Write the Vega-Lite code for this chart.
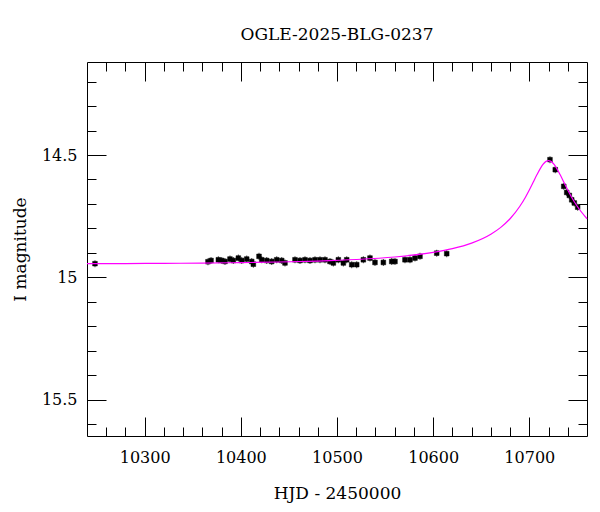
{
  "$schema": "https://vega.github.io/schema/vega-lite/v6.json",
  "width": 500,
  "height": 374,
  "autosize": "none",
  "padding": {"left": 87, "top": 62, "right": 13, "bottom": 76},
  "background": "white",
  "title": {"text": "OGLE-2025-BLG-0237", "font": "DejaVu Serif", "fontSize": 17, "fontWeight": "normal", "anchor": "middle", "baseline": "alphabetic", "offset": 5, "color": "black"},
  "config": {
    "view": {"stroke": "black", "strokeWidth": 1},
    "axis": {"domain": false, "grid": false, "tickColor": "black", "tickWidth": 1, "labelColor": "black", "titleColor": "black", "labelFont": "DejaVu Serif", "titleFont": "DejaVu Serif", "labelFontSize": 16, "titleFontSize": 17, "titleFontWeight": "normal"}
  },
  "datasets": {
    "obs": [
      {"t": 10248.3, "mag": 14.944}, {"t": 10365.8, "mag": 14.936}, {"t": 10369.0, "mag": 14.931}, {"t": 10376.6, "mag": 14.928},
      {"t": 10380.1, "mag": 14.931}, {"t": 10383.5, "mag": 14.935}, {"t": 10388.7, "mag": 14.925}, {"t": 10392.2, "mag": 14.931},
      {"t": 10397.4, "mag": 14.921}, {"t": 10400.9, "mag": 14.931}, {"t": 10406.1, "mag": 14.925}, {"t": 10411.3, "mag": 14.935},
      {"t": 10413.0, "mag": 14.946}, {"t": 10418.9, "mag": 14.914}, {"t": 10421.7, "mag": 14.928}, {"t": 10426.9, "mag": 14.931},
      {"t": 10432.1, "mag": 14.935}, {"t": 10437.3, "mag": 14.928}, {"t": 10442.5, "mag": 14.931}, {"t": 10445.9, "mag": 14.941},
      {"t": 10456.3, "mag": 14.928}, {"t": 10461.5, "mag": 14.931}, {"t": 10466.7, "mag": 14.928}, {"t": 10471.9, "mag": 14.931},
      {"t": 10477.1, "mag": 14.928}, {"t": 10482.3, "mag": 14.928}, {"t": 10487.5, "mag": 14.928}, {"t": 10492.7, "mag": 14.935},
      {"t": 10496.2, "mag": 14.941}, {"t": 10501.4, "mag": 14.928}, {"t": 10506.6, "mag": 14.941}, {"t": 10510.1, "mag": 14.928},
      {"t": 10515.3, "mag": 14.948}, {"t": 10520.5, "mag": 14.948}, {"t": 10527.4, "mag": 14.928}, {"t": 10534.3, "mag": 14.921},
      {"t": 10539.5, "mag": 14.939}, {"t": 10548.2, "mag": 14.939}, {"t": 10556.9, "mag": 14.935}, {"t": 10560.3, "mag": 14.935},
      {"t": 10570.7, "mag": 14.928}, {"t": 10575.9, "mag": 14.928}, {"t": 10581.1, "mag": 14.921}, {"t": 10586.3, "mag": 14.914},
      {"t": 10603.7, "mag": 14.901}, {"t": 10614.1, "mag": 14.903},
      {"t": 10721.5, "mag": 14.519}, {"t": 10727.0, "mag": 14.560}, {"t": 10735.8, "mag": 14.628}, {"t": 10738.9, "mag": 14.653},
      {"t": 10741.6, "mag": 14.665}, {"t": 10744.1, "mag": 14.683}, {"t": 10746.8, "mag": 14.696}, {"t": 10750.3, "mag": 14.713}
    ],
    "model": [
      {"t": 10240, "mag": 14.944}, {"t": 10280, "mag": 14.9434}, {"t": 10320, "mag": 14.9426}, {"t": 10360, "mag": 14.9414},
      {"t": 10400, "mag": 14.9397}, {"t": 10440, "mag": 14.9371}, {"t": 10480, "mag": 14.9332}, {"t": 10520, "mag": 14.927},
      {"t": 10560, "mag": 14.9167}, {"t": 10600, "mag": 14.898}, {"t": 10620, "mag": 14.8827}, {"t": 10640, "mag": 14.8599},
      {"t": 10660, "mag": 14.8235}, {"t": 10670, "mag": 14.7966}, {"t": 10680, "mag": 14.7604}, {"t": 10690, "mag": 14.7105},
      {"t": 10696, "mag": 14.6723}, {"t": 10700, "mag": 14.6431}, {"t": 10704, "mag": 14.6117}, {"t": 10708, "mag": 14.58},
      {"t": 10712, "mag": 14.5513}, {"t": 10714, "mag": 14.5396}, {"t": 10716, "mag": 14.5307}, {"t": 10718, "mag": 14.525},
      {"t": 10720, "mag": 14.5231}, {"t": 10722, "mag": 14.525}, {"t": 10724, "mag": 14.5307}, {"t": 10726, "mag": 14.5396},
      {"t": 10728, "mag": 14.5513}, {"t": 10732, "mag": 14.58}, {"t": 10736, "mag": 14.6117}, {"t": 10740, "mag": 14.6431},
      {"t": 10744, "mag": 14.6723}, {"t": 10750, "mag": 14.7105}, {"t": 10760, "mag": 14.7604}
    ]
  },
  "resolve": {"axis": {"x": "independent", "y": "independent"}},
  "layer": [
    {
      "data": {"name": "obs"},
      "mark": {"type": "tick", "orient": "vertical", "size": 7, "thickness": 1, "color": "black"},
      "encoding": {
        "x": {"field": "t", "type": "quantitative", "scale": {"domain": [10240, 10760], "nice": false, "zero": false},
              "axis": {"orient": "bottom", "values": [10300, 10400, 10500, 10600, 10700], "tickSize": -19, "labelPadding": 32, "format": "d", "title": "HJD - 2450000", "titlePadding": 20}},
        "y": {"field": "mag", "type": "quantitative", "scale": {"domain": [14.12, 15.648], "reverse": true, "nice": false, "zero": false},
              "axis": {"orient": "left", "values": [14.5, 15, 15.5], "tickSize": -19, "labelPadding": 29, "format": "~f", "title": "I magnitude", "titlePadding": 12}}
      }
    },
    {
      "data": {"name": "obs"},
      "mark": {"type": "point", "shape": "square", "filled": true, "size": 22, "color": "black", "opacity": 1},
      "encoding": {
        "x": {"field": "t", "type": "quantitative", "scale": {"domain": [10240, 10760], "nice": false, "zero": false},
              "axis": {"orient": "bottom", "values": [10260, 10280, 10320, 10340, 10360, 10380, 10420, 10440, 10460, 10480, 10520, 10540, 10560, 10580, 10620, 10640, 10660, 10680, 10720, 10740], "tickSize": -9, "labels": false, "title": null}},
        "y": {"field": "mag", "type": "quantitative", "scale": {"domain": [14.12, 15.648], "reverse": true, "nice": false, "zero": false},
              "axis": {"orient": "left", "values": [14.2, 14.3, 14.4, 14.6, 14.7, 14.8, 14.9, 15.1, 15.2, 15.3, 15.4, 15.6], "tickSize": -9, "labels": false, "title": null}}
      }
    },
    {
      "data": {"name": "obs"},
      "mark": {"type": "point", "shape": "square", "filled": false, "size": 22, "strokeWidth": 0.5, "color": "black", "opacity": 1},
      "encoding": {
        "x": {"field": "t", "type": "quantitative", "scale": {"domain": [10240, 10760], "nice": false, "zero": false},
              "axis": {"orient": "top", "values": [10300, 10400, 10500, 10600, 10700], "tickSize": -19, "labels": false, "title": null}},
        "y": {"field": "mag", "type": "quantitative", "scale": {"domain": [14.12, 15.648], "reverse": true, "nice": false, "zero": false},
              "axis": {"orient": "right", "values": [14.5, 15, 15.5], "tickSize": -19, "labels": false, "title": null}}
      }
    },
    {
      "data": {"name": "model"},
      "mark": {"type": "line", "color": "#ff00ff", "strokeWidth": 1.2, "interpolate": "monotone"},
      "encoding": {
        "x": {"field": "t", "type": "quantitative", "scale": {"domain": [10240, 10760], "nice": false, "zero": false},
              "axis": {"orient": "top", "values": [10260, 10280, 10320, 10340, 10360, 10380, 10420, 10440, 10460, 10480, 10520, 10540, 10560, 10580, 10620, 10640, 10660, 10680, 10720, 10740], "tickSize": -9, "labels": false, "title": null}},
        "y": {"field": "mag", "type": "quantitative", "scale": {"domain": [14.12, 15.648], "reverse": true, "nice": false, "zero": false},
              "axis": {"orient": "right", "values": [14.2, 14.3, 14.4, 14.6, 14.7, 14.8, 14.9, 15.1, 15.2, 15.3, 15.4, 15.6], "tickSize": -9, "labels": false, "title": null}}
      }
    }
  ]
}
